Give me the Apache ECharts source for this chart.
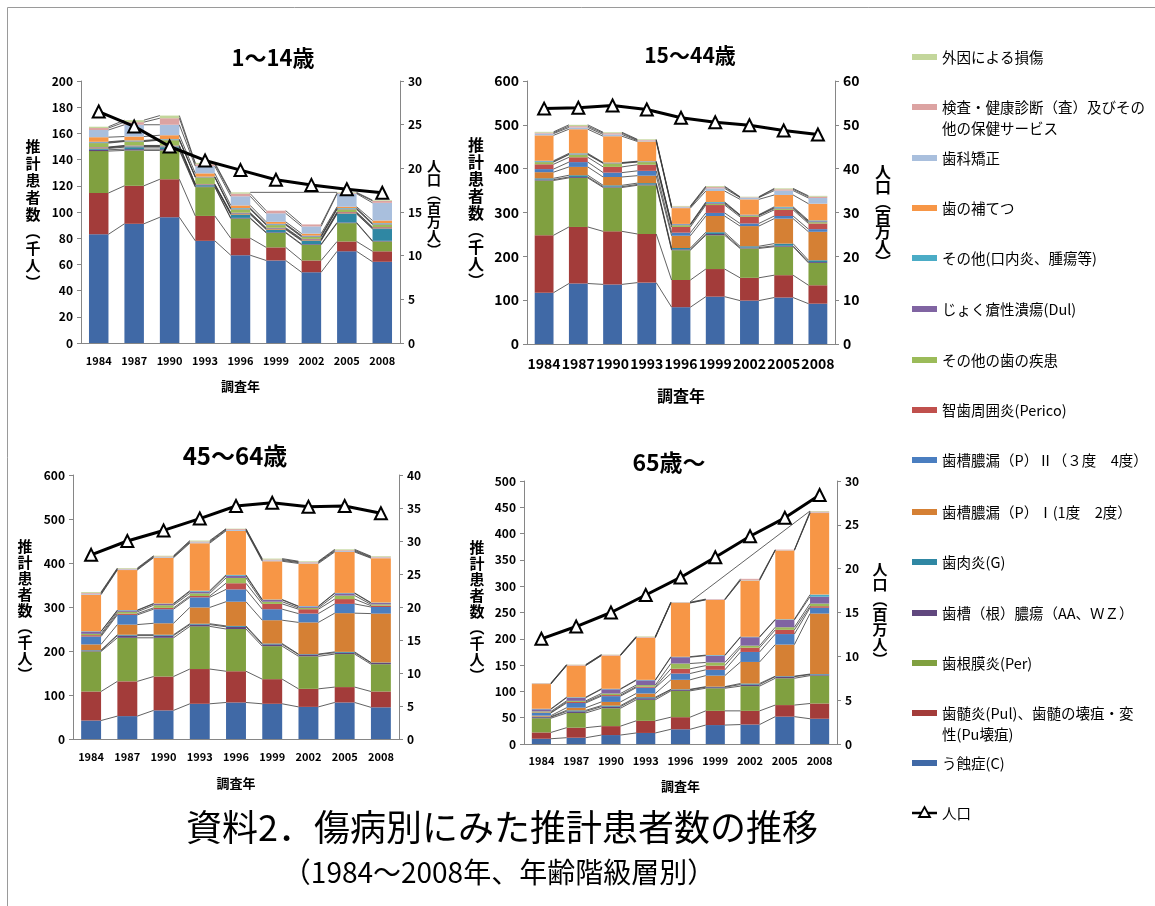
<!DOCTYPE html>
<html><head><meta charset="utf-8">
<script src="https://cdn.jsdelivr.net/npm/echarts@6/dist/echarts.min.js"></script>
<style>html,body{margin:0;padding:0;background:#fff}#c{width:1155px;height:906px}</style>
</head><body><div id="c"></div>
<script>
const years = ['1984','1987','1990','1993','1996','1999','2002','2005','2008'];

// stacking order (bottom -> top)
const seriesNames = ['う蝕症(C)','歯髄炎(Pul)、歯髄の壊疽・変性(Pu壊疽)','歯根膜炎(Per)','歯槽（根）膿瘍（AA、ＷＺ）','歯肉炎(G)','歯槽膿漏（P）Ⅰ(1度　2度）','歯槽膿漏（P）Ⅱ（３度　4度）','智歯周囲炎(Perico)','その他の歯の疾患','じょく瘡性潰瘍(Dul)','その他(口内炎、腫瘍等)','歯の補てつ','歯科矯正','検査・健康診断（査）及びその他の保健サービス','外因による損傷'];
const legendLabels = ['う蝕症(C)','歯髄炎(Pul)、歯髄の壊疽・変\n性(Pu壊疽)','歯根膜炎(Per)','歯槽（根）膿瘍（AA、ＷＺ）','歯肉炎(G)','歯槽膿漏（P）Ⅰ(1度　2度）','歯槽膿漏（P）Ⅱ（３度　4度）','智歯周囲炎(Perico)','その他の歯の疾患','じょく瘡性潰瘍(Dul)','その他(口内炎、腫瘍等)','歯の補てつ','歯科矯正','検査・健康診断（査）及びその\n他の保健サービス','外因による損傷'];
const colors = ['#4069A6','#A33C3A','#80A040','#60477E','#2F87A3','#D58034','#4A7EC0','#C0504D','#9BBB59','#8064A2','#4BACC6','#F79646','#A9BFDD','#DCA3A2','#C3D69B'];
const popName = '人口';

// 1～14歳 (千人), rows follow seriesNames
const age1to14 = [
  [83,91,96,78,67,63,54,70,62],
  [31.5,29,29,19,13,10,9,7.5,8],
  [32,27,22,22,15,11,12,14,7.5],
  [1,1,1,0.5,0.5,0.5,0.5,0.5,0.5],
  [1,1.5,1.5,1,2.5,2,2.5,6.5,9],
  [0.5,0.5,0.5,0.3,0.5,0.5,0.5,0.5,0.5],
  [0.3,0.5,0.5,0.3,0.5,0.5,0.5,0.5,0.5],
  [0.3,0.3,0.3,0.3,0.5,0.5,0.5,0.5,0.5],
  [3,3,4,5,2.5,2,1.5,2,2],
  [0.5,0.3,0.3,0.3,0.5,0.5,0.5,0.5,0.5],
  [0.5,0.5,0.5,0.3,0.5,0.5,0.5,0.5,0.5],
  [3.5,3,3,2.5,2,1.5,1.5,1,2],
  [5.5,9,8,5.5,7,6.5,5.5,10,13.5],
  [1.5,2,5,1.5,2,2,1.5,0.5,1.5],
  [1,1.5,2,1,1,null,null,0.5,0.5]
];
const pop1to14 = [26.5,24.8,22.5,20.9,19.8,18.7,18.1,17.6,17.2];

// 15～44歳
const age15to44 = [
  [117,138,136,140,84,108,99,106,92],
  [131,129,121,111,62,63,52,51,42],
  [125,112,100,111,68,77,67,65,51],
  [2,2,2,2,2,3,2,2,2],
  [3,4,3,3,3,4,3,5,4],
  [14,19,19,17,28,37,46,57,65],
  [7,11,10,11,7,7,6,6,6],
  [11,11,13,14,13,18,15,14,13],
  [5,6,8,6,4,3,3,3,3],
  [1,1,1,1,2,2,1,2,2],
  [2,2,1,1,1,2,1,2,2],
  [58,55,60,45,36,25,35,27,38],
  [4,4,4,2,2,6,4,10,13],
  [2,3,3,1.5,1.5,3,1,3,3],
  [2,3,2,1.5,1.5,2,1,2,2]
];
const pop15to44 = [53.7,53.9,54.4,53.5,51.6,50.6,49.9,48.7,47.8];

// 45～64歳
const age45to64 = [
  [42,52,65,80,83,80,73,83,72],
  [66,79,77,79,71,56,41,35,36],
  [91,99,88,97,96,75,74,75,62],
  [2,5,5,4,5,4,4,3,3],
  [1,2,2,2,2,2,1,2,1],
  [13,23,26,37,55,53,72,88,111],
  [18,22,32,23,28,25,20,21,15],
  [3,3,3,3,14,12,10,11,3],
  [3,4,6,6,12,5,3,8,3],
  [5,3,3,4,5,4,3,5,3],
  [1,1,1,2,2,1,1,1,1],
  [83,91,104,108,100,87,97,93,101],
  [2,1.5,1.5,2,2,2,2,2,1.5],
  [2,1.5,1.5,2,2,2,1.5,2,1.5],
  [2,1.5,1.5,2,1,2,1.5,2,1.5]
];
const pop45to64 = [27.9,30.0,31.6,33.4,35.3,35.8,35.2,35.3,34.2];

// 65歳～
const age65plus = [
  [10,12,17,21,28,36,37,52,48],
  [12,19,17,23,23,27,26,22,29],
  [27,28,34,40,50,43,47,51,53],
  [2,3,3,3,2,2,3,3,2],
  [1,2,2,2,1,1,2,1,1],
  [2,5,7,7,18,21,41,60,115],
  [5,9,11,11,12,11,19,20,11],
  [1,2,2,2,9,8,8,8,3],
  [2,2,3,3,10,6,4,5,5],
  [4,6,8,9,12,13,16,14,13],
  [1,1,1,1,1,1,1,1,4],
  [47,60,63,80,102,105,107,131,155],
  [0.5,0.5,0.5,0.5,0.5,0.5,1,0.5,1],
  [1,1,1,1,1,1,2,1,2],
  [0.5,0.5,0.5,1,0.5,null,null,null,1]
];
const pop65plus = [12.0,13.4,15.0,17.0,19.0,21.3,23.7,25.8,28.4];

const panelTitles = ['1～14歳','15～44歳','45～64歳','65歳～'];
const leftAxisName = '推\n計\n患\n者\n数\n︵\n千\n人\n︶';
const rightAxisName = '人\n口\n︵\n百\n万\n人\n︶';
const xAxisName = '調査年';
const mainTitle = '資料2．傷病別にみた推計患者数の推移';
const subTitle = '（1984～2008年、年齢階級層別）';

// ---------- layout ----------
const FONT = '"Noto Sans CJK JP", "Noto Sans", sans-serif';
const panels = [
  {mat: age1to14, pop: pop1to14, grid:{left:81,top:81,width:319,height:262}, lmax:200, lint:20, rmax:30, rint:5, yfs:12, xfs:11, xm:12, xnfs:13, xng:37},
  {mat: age15to44, pop: pop15to44, grid:{left:527,top:81,width:308,height:263}, lmax:600, lint:100, rmax:60, rint:10, yfs:14, xfs:14, xm:13, xnfs:16, xng:44},
  {mat: age45to64, pop: pop45to64, grid:{left:73,top:475,width:326,height:264}, lmax:600, lint:100, rmax:40, rint:5, yfs:12, xfs:11, xm:12, xnfs:13, xng:38},
  {mat: age65plus, pop: pop65plus, grid:{left:524,top:481,width:313,height:263}, lmax:500, lint:50, rmax:30, rint:5, yfs:12, xfs:11, xm:11, xnfs:13, xng:36}
];
const BAR_RATIO = 0.55;
const axisLineStyle = {color:'#868686', width:1};

const grid = [], xAxis = [], yAxis = [], series = [];
panels.forEach((p, gi) => {
  grid.push(Object.assign({containLabel:false}, p.grid));
  xAxis.push({
    type:'category', gridIndex:gi, data:years,
    axisLine:{lineStyle:axisLineStyle}, axisTick:{lineStyle:axisLineStyle, length:4},
    axisLabel:{interval:0, color:'#000', fontWeight:'bold', fontSize:p.xfs, fontFamily:FONT, margin:p.xm},
    name:xAxisName, nameLocation:'middle', nameGap:p.xng,
    nameTextStyle:{color:'#000', fontWeight:'bold', fontSize:p.xnfs, fontFamily:FONT}
  });
  yAxis.push({
    type:'value', gridIndex:gi, position:'left', min:0, max:p.lmax, interval:p.lint,
    axisLine:{show:true, lineStyle:axisLineStyle}, axisTick:{show:true, length:4, lineStyle:axisLineStyle},
    splitLine:{show:false},
    axisLabel:{color:'#000', fontWeight:'bold', fontSize:p.yfs, fontFamily:FONT, margin:8}
  });
  yAxis.push({
    type:'value', gridIndex:gi, position:'right', min:0, max:p.rmax, interval:p.rint,
    axisLine:{show:true, lineStyle:axisLineStyle}, axisTick:{show:true, length:4, lineStyle:axisLineStyle},
    splitLine:{show:false},
    axisLabel:{color:'#000', fontWeight:'bold', fontSize:p.yfs, fontFamily:FONT, margin:8}
  });
  p.mat.forEach((row, k) => {
    series.push({
      type:'bar', name:seriesNames[k], xAxisIndex:gi, yAxisIndex:gi*2, stack:'s'+gi,
      data:row, barWidth:(BAR_RATIO*100)+'%', itemStyle:{color:colors[k]}, z:2
    });
  });
  // Excel-style series lines connecting segment tops between adjacent bars
  const mat = p.mat;
  series.push({
    type:'custom', xAxisIndex:gi, yAxisIndex:gi*2, silent:true, z:3, clip:false,
    data:[[0,0]],
    renderItem: function(params, api){
      const band = api.size([1,0])[0];
      const half = band*BAR_RATIO/2;
      const n = years.length;
      const cum = mat.map(() => []);
      for (let i=0;i<n;i++){
        let s=0;
        for (let k=0;k<mat.length;k++){
          const v = mat[k][i];
          if (v != null) { s += v; cum[k][i] = s; } else cum[k][i] = null;
        }
      }
      const children = [];
      for (let k=0;k<mat.length;k++){
        let prev=-1;
        for (let i=0;i<n;i++){
          if (cum[k][i] == null) continue;
          if (prev >= 0){
            const a = api.coord([prev, cum[k][prev]]);
            const b = api.coord([i, cum[k][i]]);
            children.push({type:'line', shape:{x1:a[0]+half, y1:a[1], x2:b[0]-half, y2:b[1]},
              style:{stroke:'#3a3a3a', lineWidth:0.8}});
          }
          prev = i;
        }
      }
      return {type:'group', children};
    }
  });
  series.push({
    type:'line', name:popName, xAxisIndex:gi, yAxisIndex:gi*2+1, data:p.pop,
    symbol:'triangle', symbolSize:12, z:5,
    lineStyle:{color:'#000', width:3},
    itemStyle:{color:'#fff', borderColor:'#000', borderWidth:2}
  });
});

// ---------- text & legend graphics ----------
const graphic = [];
graphic.push({type:'rect', shape:{x:7.5,y:7.5,width:1170,height:920}, style:{fill:'none', stroke:'#9a9a9a', lineWidth:1}, silent:true});
function txt(text, x, y, size, weight, extra){
  return Object.assign({type:'text', silent:true, style:Object.assign({text, x, y, fontSize:size, fontWeight:weight, fontFamily:FONT, fill:'#000', align:'center', verticalAlign:'middle'}, extra||{})});
}
// panel titles
graphic.push(txt(panelTitles[0], 273, 58, 22, 'bold'));
graphic.push(txt(panelTitles[1], 690, 55, 21, 'bold'));
graphic.push(txt(panelTitles[2], 235, 456, 24, 'bold'));
graphic.push(txt(panelTitles[3], 669, 462, 23, 'bold'));
// vertical axis names
graphic.push(txt(leftAxisName, 33, 214, 15, 'bold', {lineHeight:17}));
graphic.push(txt(rightAxisName, 434, 208, 14, 'bold', {lineHeight:14}));
graphic.push(txt(leftAxisName, 476, 213, 16, 'bold', {lineHeight:17}));
graphic.push(txt(rightAxisName, 883, 217, 16, 'bold', {lineHeight:15}));
graphic.push(txt(leftAxisName, 25, 610, 15, 'bold', {lineHeight:16}));
graphic.push(txt(leftAxisName, 477, 611, 15, 'bold', {lineHeight:16}));
graphic.push(txt(rightAxisName, 880, 614, 15, 'bold', {lineHeight:15}));
// main titles
graphic.push(txt(mainTitle, 502, 827, 36, 'normal'));
graphic.push(txt(subTitle, 499, 872, 28, 'normal'));
// legend (top -> bottom is reverse of stacking)
const legendY = [57,107,158,208,258,309,360,410,460,512,562,613,663,713,763];
for (let j=0;j<15;j++){
  const k = 14-j;
  const y = legendY[j];
  graphic.push({type:'rect', silent:true, shape:{x:912, y:y-3, width:25, height:6}, style:{fill:colors[k]}});
  graphic.push({type:'text', silent:true, style:{text:legendLabels[k], x:942, y:y-10, fontSize:14.5, fontFamily:FONT, fill:'#000', align:'left', verticalAlign:'top', lineHeight:21}});
}
graphic.push({type:'line', silent:true, shape:{x1:912,y1:813,x2:937,y2:813}, style:{stroke:'#000', lineWidth:2.5}});
graphic.push({type:'polygon', silent:true, shape:{points:[[924.5,807],[930,817],[919,817]]}, style:{fill:'#fff', stroke:'#000', lineWidth:1.8}});
graphic.push({type:'text', silent:true, style:{text:popName, x:942, y:813, fontSize:14.5, fontFamily:FONT, fill:'#000', align:'left', verticalAlign:'middle'}});

const chart = echarts.init(document.getElementById('c'), null, {renderer:'canvas'});
chart.setOption({
  backgroundColor:'#fff',
  animation:false,
  textStyle:{fontFamily:FONT},
  grid, xAxis, yAxis, series, graphic
});
</script>
</body></html>
